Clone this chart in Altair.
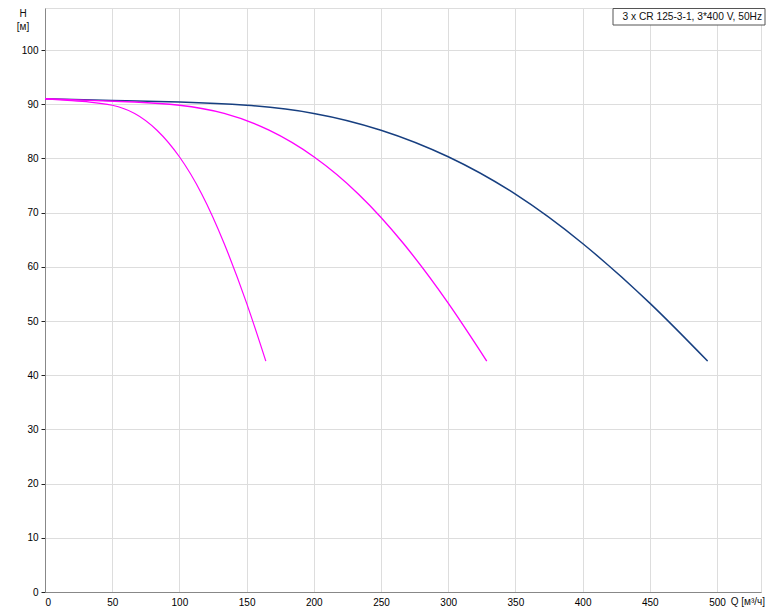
import altair as alt
import pandas as pd

# three pumps (blue)
q3 = [0, 50, 100, 150, 200, 250, 300, 350, 400, 450, 493]
h3 = [91.0, 90.7, 90.4, 89.8, 88.3, 85.2, 80.3, 73.4, 64.3, 53.3, 42.6]
# two pumps (magenta)
q2 = [0, 33.3, 66.7, 100, 133.3, 166.7, 200, 233.3, 266.7, 300, 328.7]
h2 = [91.0, 90.7, 90.4, 89.8, 88.3, 85.2, 80.3, 73.4, 64.3, 53.3, 42.6]
# one pump (magenta)
q1 = [0, 16.7, 33.3, 50, 66.7, 83.3, 100, 116.7, 133.3, 150, 164.3]
h1 = [91.0, 90.7, 90.4, 89.8, 88.3, 85.2, 80.3, 73.4, 64.3, 53.3, 42.6]

x_ticks = [0, 50, 100, 150, 200, 250, 300, 350, 400, 450, 500]
y_ticks = [0, 10, 20, 30, 40, 50, 60, 70, 80, 90, 100]
legend_text = "3 x CR 125-3-1, 3*400 V, 50Hz"
x_title = "Q [м³/ч]"
y_title = ["H", "[м]"]

rows = []
for name, qs, hs in [("3", q3, h3), ("2", q2, h2), ("1", q1, h1)]:
    for i, (q, h) in enumerate(zip(qs, hs)):
        rows.append({"s": name, "q": q, "h": h, "o": i})
df = pd.DataFrame(rows)

W, H = 716, 584
FONT = "Liberation Sans"
xs = alt.Scale(domain=[0, W / 1.344], nice=False)
ys = alt.Scale(domain=[0, H / 5.42], nice=False)

lines = alt.Chart(df).mark_line(interpolate="natural").encode(
    x=alt.X("q:Q", scale=xs, axis=alt.Axis(values=x_ticks, title=None, grid=True, ticks=False,
                                           labelPadding=5, format="d")),
    y=alt.Y("h:Q", scale=ys, axis=alt.Axis(values=y_ticks, title=None, grid=True, ticks=True,
                                           tickSize=4, tickColor="#222", labelPadding=3, format="d")),
    color=alt.Color("s:N", scale=alt.Scale(domain=["3", "2", "1"],
                                           range=["#173f80", "#ff00ff", "#ff00ff"]), legend=None),
    strokeWidth=alt.StrokeWidth("s:N", scale=alt.Scale(domain=["3", "2", "1"], range=[1.5, 1.2, 1.2]),
                                legend=None),
    detail="s:N",
    order="o:Q",
)

ann = pd.DataFrame({"t": [legend_text]})
box = alt.Chart(ann).mark_rect(fill="white", stroke="#555", strokeWidth=1).encode(
    x=alt.value(W - 148), x2=alt.value(W + 4), y=alt.value(0.5), y2=alt.value(17)
)
box_txt = alt.Chart(ann).mark_text(align="right", baseline="middle", fontSize=10.2, font=FONT,
                                   color="#111").encode(
    x=alt.value(W + 1), y=alt.value(9), text="t:N"
)
qt = alt.Chart(pd.DataFrame({"t": [x_title]})).mark_text(align="right", baseline="top", fontSize=10,
                                                         font=FONT, color="#111").encode(
    x=alt.value(W + 4), y=alt.value(H + 5), text="t:N"
)
ht = alt.Chart(pd.DataFrame({"t": [y_title[0]]})).mark_text(align="center", baseline="top", fontSize=10,
                                                            font=FONT, color="#111").encode(
    x=alt.value(-22), y=alt.value(1), text="t:N"
)
mt = alt.Chart(pd.DataFrame({"t": [y_title[1]]})).mark_text(align="center", baseline="top", fontSize=10,
                                                            font=FONT, color="#111").encode(
    x=alt.value(-22), y=alt.value(14), text="t:N"
)

chart = alt.layer(lines, box, box_txt, qt, ht, mt).properties(
    width=W, height=H,
    autosize=alt.AutoSizeParams(type="none"),
    padding={"left": 37, "top": 0, "right": 5, "bottom": 18},
).configure_view(stroke=None).configure_axis(
    domainColor="#808080", domainWidth=2, gridColor="#d6d6d6", gridWidth=1,
    labelFont=FONT, labelFontSize=10, labelColor="#111",
).configure(background="white")

chart.save("out.html", embed_options={"renderer": "svg", "actions": False})
